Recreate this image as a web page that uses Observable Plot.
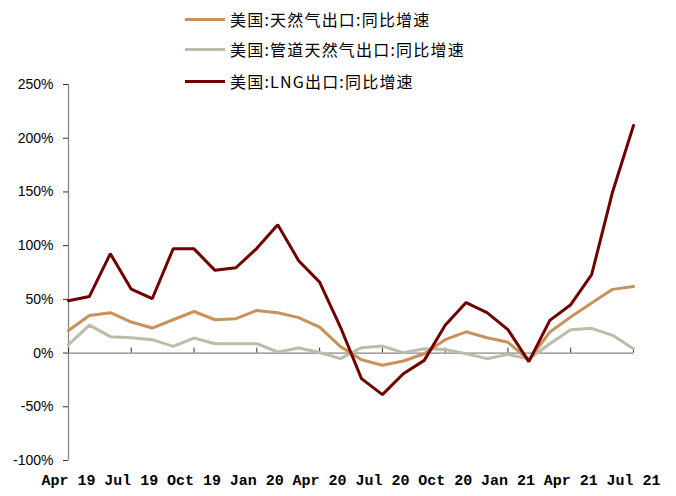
<!DOCTYPE html>
<html><head><meta charset="utf-8">
<script src="https://cdn.jsdelivr.net/npm/d3@7"></script>
<script src="https://cdn.jsdelivr.net/npm/@observablehq/plot@0.6"></script>
<style>
body{margin:0;background:#fff;}
#wrap{position:relative;width:676px;height:496px;}
#legend{position:absolute;left:185px;top:0;font-family:"Noto Sans CJK SC",sans-serif;font-size:16px;letter-spacing:1.2px;color:#000;z-index:2;}
.item{position:absolute;left:0;display:flex;align-items:center;white-space:nowrap;height:20px;}
.sw{width:40px;height:3px;margin-right:5px;}
</style></head><body>
<div id="wrap"><div id="legend"></div></div>
<script>
const months = ["Apr 19","May 19","Jun 19","Jul 19","Aug 19","Sep 19","Oct 19","Nov 19","Dec 19",
  "Jan 20","Feb 20","Mar 20","Apr 20","May 20","Jun 20","Jul 20","Aug 20","Sep 20","Oct 20","Nov 20","Dec 20",
  "Jan 21","Feb 21","Mar 21","Apr 21","May 21","Jun 21","Jul 21"];
const tickLabels = ["Apr 19","Jul 19","Oct 19","Jan 20","Apr 20","Jul 20","Oct 20","Jan 21","Apr 21","Jul 21"];
const yTicks = [-100,-50,0,50,100,150,200,250];
const seriesNames = ["美国:天然气出口:同比增速","美国:管道天然气出口:同比增速","美国:LNG出口:同比增速"];
const seriesColors = ["#C8925A","#BDBBAA","#700000"];
const natGas = [21,35,37.6,28.9,23.3,31,38.7,31,32,39.7,37.6,33,24.2,6,-6.2,-11.4,-7.4,-0.6,12.5,19.8,14.3,10,-6.2,19.5,33.5,46.5,59.3,62];
const pipeline = [7.8,26,15.3,14.3,12.5,6.2,14,8.7,8.7,8.7,1,4.7,0.5,-5.2,5,6.5,0.4,4,3.4,-0.6,-5.2,-1.2,-5.6,8.7,21.8,23,16.5,4];
const lng = [48.7,52.7,92.5,59.5,50.6,97,97,77,79.4,97.5,119.4,86,66,24,-23.8,-38.7,-19.2,-6.8,25.8,47,37.6,21.8,-8,30.4,45,73,150,211.8];

const seriesValues = [natGas, pipeline, lng];
// draw order: pipeline, natGas, lng (LNG on top)
const drawOrder = [1, 0, 2];
const rows = [];
for (const s of drawOrder) {
  seriesValues[s].forEach((v, i) => rows.push({month: months[i], value: v, series: seriesNames[s]}));
}

const axisGray = "#868686";
const chart = Plot.plot({
  width: 676, height: 496,
  marginTop: 84, marginBottom: 36, marginLeft: 68, marginRight: 43,
  style: {fontFamily: "Liberation Sans, Arial, sans-serif", fontSize: "14px", color: "#000", background: "#fff"},
  x: {type: "point", domain: months, padding: 0, round: false},
  y: {domain: [-100, 250]},
  color: {domain: seriesNames, range: seriesColors},
  marks: [
    Plot.ruleX([months[0]], {stroke: axisGray, strokeWidth: 1.3}),
    Plot.ruleY([0], {stroke: axisGray, strokeWidth: 1.3}),
    Plot.ruleX(tickLabels, {y1: 0, y2: 0, insetTop: -5, stroke: "#333"}),
    Plot.axisY({ticks: yTicks, tickFormat: d => d + "%", tickSize: 5, tickPadding: 10, stroke: "#333", label: null, fontSize: 14}),
    Plot.axisX({ticks: tickLabels, tickSize: 0, tickPadding: 14, label: null, fontFamily: "Liberation Mono, monospace", fontSize: 15, fontWeight: 600}),
    Plot.line(rows, {x: "month", y: "value", z: "series", stroke: "series", strokeWidth: 3, strokeLinejoin: "miter"})
  ]
});
document.getElementById("wrap").appendChild(chart);

const legend = document.getElementById("legend");
const rowTops = [9, 39, 71];
seriesNames.forEach((name, k) => {
  const it = document.createElement("div");
  it.className = "item";
  it.style.top = rowTops[k] + "px";
  const sw = document.createElement("span");
  sw.className = "sw";
  sw.style.background = seriesColors[k];
  const tx = document.createElement("span");
  tx.textContent = name;
  it.appendChild(sw); it.appendChild(tx);
  legend.appendChild(it);
});
</script>
</body></html>
